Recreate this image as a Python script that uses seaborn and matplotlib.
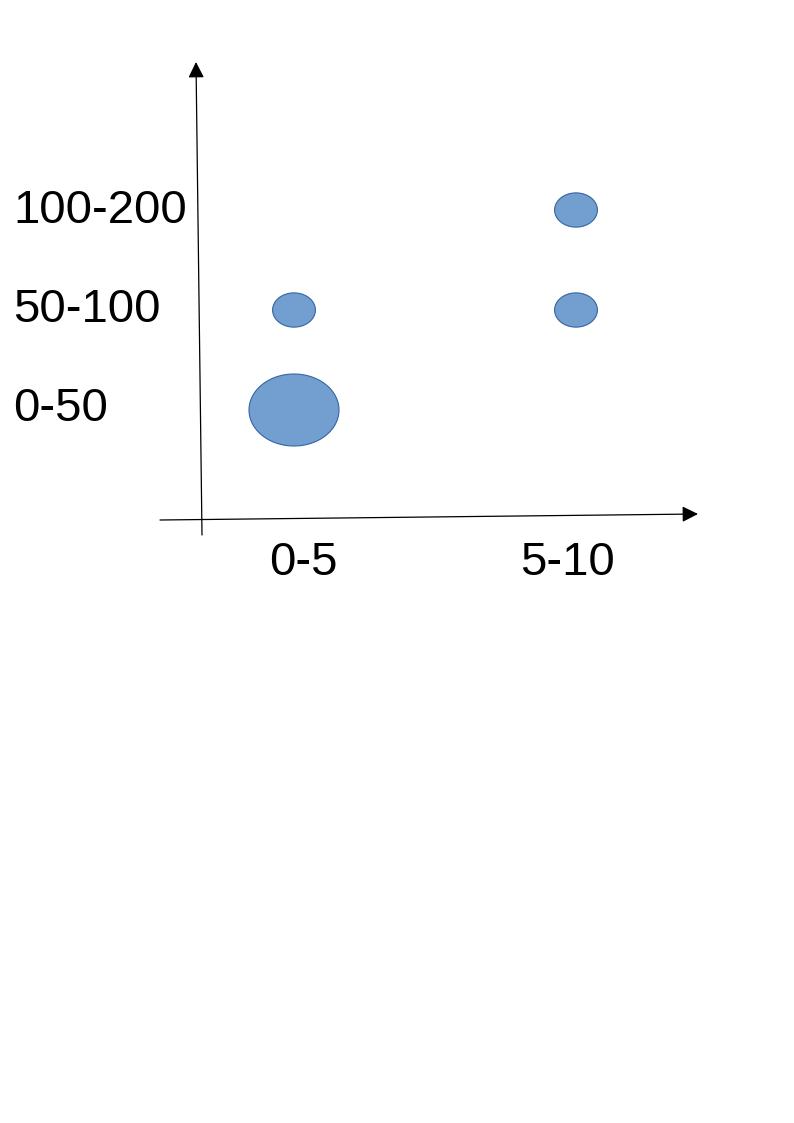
import numpy as np
import pandas as pd
import matplotlib
matplotlib.use("Agg")
import matplotlib.pyplot as plt
import matplotlib.path as mpath
import seaborn as sns

# data
x_labels = ["0-5", "5-10"]
y_labels = ["0-50", "50-100", "100-200"]
bubble_x = ["0-5", "0-5", "5-10", "5-10"]
bubble_y = ["0-50", "50-100", "50-100", "100-200"]
bubble_count = [4, 1, 1, 1]

df = pd.DataFrame({
    "x": [x_labels.index(v) for v in bubble_x],
    "y": [y_labels.index(v) for v in bubble_y],
    "count": bubble_count,
})

W, H = 794, 1123
sns.set_theme(style="white")
plt.rcParams["font.family"] = ["Liberation Sans", "DejaVu Sans"]

fig = plt.figure(figsize=(W / 100, H / 100), dpi=100)
# axes placed so that category 0 -> 294px, 1 -> 576px ; y 0 -> 410px, 2 -> 210px
left, right = 294 - 141, 576 + 141
top, bottom = 110, 510
ax = fig.add_axes([left / W, 1 - bottom / H, (right - left) / W, (bottom - top) / H])
ax.set_xlim(-0.5, 1.5)
ax.set_ylim(-1, 3)

# ellipse marker, a bit wider than tall
t = np.linspace(0, 2 * np.pi, 100)
ellipse = mpath.Path(np.column_stack([np.cos(t), 0.8 * np.sin(t)]), closed=True)

sns.scatterplot(data=df, x="x", y="y", size="count", sizes=(950, 4200),
                marker=ellipse, color="#729fcf", edgecolor="#3465a4",
                linewidth=0.8, legend=False, ax=ax)

ax.axis("off")

# hand drawn axes with arrow heads (figure pixels, y from bottom)
arrow = dict(arrowstyle="-|>", color="black", lw=0.9, mutation_scale=24,
             shrinkA=0, shrinkB=0)
ax.annotate("", xy=(196, H - 62), xytext=(202, H - 535),
            xycoords="figure pixels", textcoords="figure pixels",
            arrowprops=arrow, annotation_clip=False)
ax.annotate("", xy=(698, H - 514), xytext=(160, H - 520),
            xycoords="figure pixels", textcoords="figure pixels",
            arrowprops=arrow, annotation_clip=False)

# tick labels
ytrans = matplotlib.transforms.blended_transform_factory(fig.transFigure, ax.transData)
for i, lab in enumerate(y_labels):
    ax.text(13 / W, i - 0.01 * (i - 1), lab, transform=ytrans, ha="left", va="center",
            fontsize=34, color="black", clip_on=False)
xtrans = matplotlib.transforms.blended_transform_factory(ax.transData, fig.transFigure)
for i, lab in enumerate(x_labels):
    ax.text(i + (0.035 if i == 0 else -0.03), 1 - 563 / H, lab, transform=xtrans,
            ha="center", va="center", fontsize=34, color="black", clip_on=False)

fig.savefig("out.png", dpi=100, facecolor="white")
